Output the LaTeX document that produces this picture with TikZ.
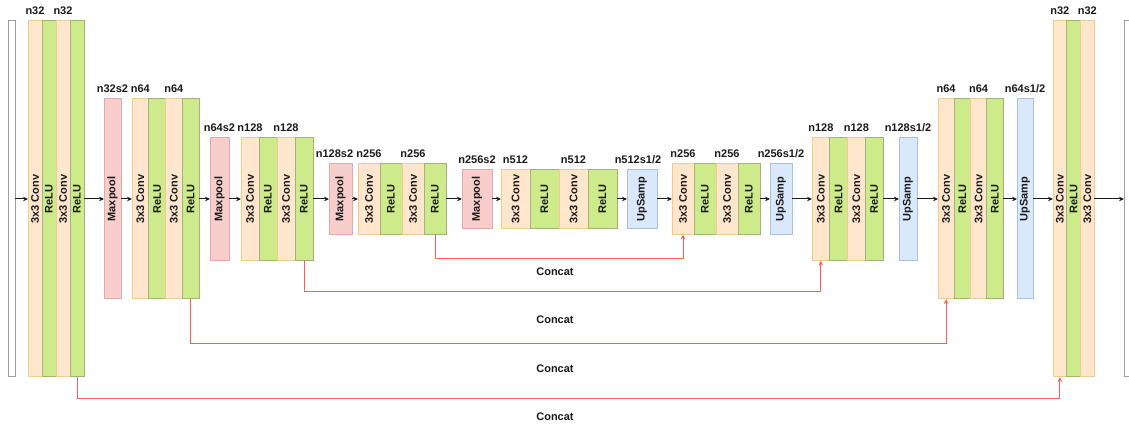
\documentclass[tikz,border=0pt]{standalone}
\usepackage{fontspec}
\setmainfont{Liberation Sans}
\usepackage{graphicx}
\usetikzlibrary{arrows.meta,positioning}
\definecolor{unInk}{HTML}{1A1A1A}
\definecolor{unConvFill}{HTML}{FFE6CC}
\definecolor{unConvLine}{HTML}{F2CC8F}
\definecolor{unReluFill}{HTML}{CDEB8B}
\definecolor{unReluLine}{HTML}{A2B27E}
\definecolor{unPoolFill}{HTML}{F8CECC}
\definecolor{unPoolLine}{HTML}{E6A9A7}
\definecolor{unUpFill}{HTML}{DAE8FC}
\definecolor{unUpLine}{HTML}{A9C1E3}
\definecolor{unIoLine}{HTML}{9E9E9E}
\definecolor{unSkip}{HTML}{FF5C5C}
\newdimen\unpx \unpx=0.75pt
\tikzset{
 unet/.style={x=\unpx,y=-\unpx,text=unInk,
   font=\fontsize{8.25}{10}\selectfont\bfseries,
   every label/.style={inner sep=0pt,text=unInk,font=\fontsize{8.25}{10}\selectfont\bfseries},
   label distance=4.5pt},
 sz/.style 2 args={minimum width=#1\unpx,minimum height=#2\unpx},
 layer/.style={rectangle,inner sep=0pt,outer sep=0pt,line width=.75pt},
 conv/.style={layer,fill=unConvFill,draw=unConvLine},
 relu/.style={layer,fill=unReluFill,draw=unReluLine},
 pool/.style={layer,fill=unPoolFill,draw=unPoolLine},
 upsamp/.style={layer,fill=unUpFill,draw=unUpLine},
 iobar/.style={layer,fill=white,draw=unIoLine},
 flow/.style={draw=unInk,line width=.75pt,-{Stealth[length=3.75pt,width=3.4pt]}},
 skip/.style={draw=unSkip,line width=.75pt,-{Stealth[length=3.75pt,width=3.4pt]}},
 concat/.style={inner sep=0pt}
}
\newcommand{\vt}[1]{\rotatebox{90}{#1}}
% conv-relu-conv-relu stage: name, left x, width, height, two labels
\newcommand{\convStage}[6]{%
 \node[conv,sz={#3}{#4},anchor=west,label=above:{#5}] (#1c1) at (#2,199) {\vt{3x3 Conv}};
 \node[relu,sz={#3}{#4},right=0pt of #1c1] (#1r1) {\vt{ReLU}};
 \node[conv,sz={#3}{#4},right=0pt of #1r1,label=above:{#6}] (#1c2) {\vt{3x3 Conv}};
 \node[relu,sz={#3}{#4},right=0pt of #1c2] (#1r2) {\vt{ReLU}};}

\begin{document}
\begin{tikzpicture}[unet]
 \useasboundingbox (0,0) rectangle (1129,427);
 \clip (0,0) rectangle (1129,427);
 % encoder
 \node[iobar,sz={7}{356},anchor=west] (in) at (8,199) {};
 \convStage{b1}{28}{14}{356}{n32}{n32}
 \node[pool,sz={17}{200},anchor=west,label=above:{n32s2}] (mp1) at (104,199) {\vt{Maxpool}};
 \convStage{b2}{132}{16.75}{200}{n64}{n64}
 \node[pool,sz={19}{123},anchor=west,label=above:{n64s2}] (mp2) at (210,199) {\vt{Maxpool}};
 \convStage{b3}{241}{18}{123}{n128}{n128}
 \node[pool,sz={23}{71},anchor=west,label={[xshift=-4.5pt]above:{n128s2}}] (mp3) at (329,199) {\vt{Maxpool}};
 \convStage{b4}{358}{22}{71}{n256}{n256}
 \node[pool,sz={30}{59},anchor=west,label=above:{n256s2}] (mp4) at (462,199) {\vt{Maxpool}};
 % bottleneck
 \convStage{b5}{501}{29}{59}{n512}{n512}
 % decoder
 \node[upsamp,sz={30}{59},anchor=west,label={[xshift=-3pt]above:{n512s1/2}}] (up1) at (627,199) {\vt{UpSamp}};
 \convStage{b6}{672}{22}{71}{n256}{n256}
 \node[upsamp,sz={22}{71},anchor=west,label=above:{n256s1/2}] (up2) at (770,199) {\vt{UpSamp}};
 \convStage{b7}{812}{17.75}{123}{n128}{n128}
 \node[upsamp,sz={18}{123},anchor=west,label=above:{n128s1/2}] (up3) at (899,199) {\vt{UpSamp}};
 \convStage{b8}{938}{16.25}{200}{n64}{n64}
 \node[upsamp,sz={16}{200},anchor=west,label=above:{n64s1/2}] (up4) at (1017,199) {\vt{UpSamp}};
 \node[conv,sz={13.75}{356},anchor=west,label=above:{n32}] (b9c1) at (1053,199) {\vt{3x3 Conv}};
 \node[relu,sz={13.75}{356},right=0pt of b9c1] (b9r1) {\vt{ReLU}};
 \node[conv,sz={13.75}{356},right=0pt of b9r1,label=above:{n32}] (b9c2) {\vt{3x3 Conv}};
 \node[iobar,sz={14}{356},anchor=west] (out) at (1124,199) {};
 % main flow
 \foreach \a/\b in {in/b1c1,b1r2/mp1,mp1/b2c1,b2r2/mp2,mp2/b3c1,b3r2/mp3,mp3/b4c1,
   b4r2/mp4,mp4/b5c1,b5r2/up1,up1/b6c1,b6r2/up2,up2/b7c1,b7r2/up3,up3/b8c1,
   b8r2/up4,up4/b9c1,b9c2/out}
   {\draw[flow] (\a.east) -- (\b.west);}
 % skip connections
 \draw[skip] (b4r2.south) -- ++(0,24) -| (b6c1.south);
 \draw[skip] (b3r2.south) -- ++(0,31) -| (b7c1.south);
 \draw[skip] (b2r2.south) -- ++(0,45) -| (b8c1.south);
 \draw[skip] (b1r2.south) -- ++(0,22) -| (b9c1.south);
 \node[concat] (cat4) at (555,272) {Concat};
 \node[concat] (cat3) at (555,320) {Concat};
 \node[concat] (cat2) at (555,369) {Concat};
 \node[concat] (cat1) at (555,417) {Concat};
\end{tikzpicture}
\end{document}
